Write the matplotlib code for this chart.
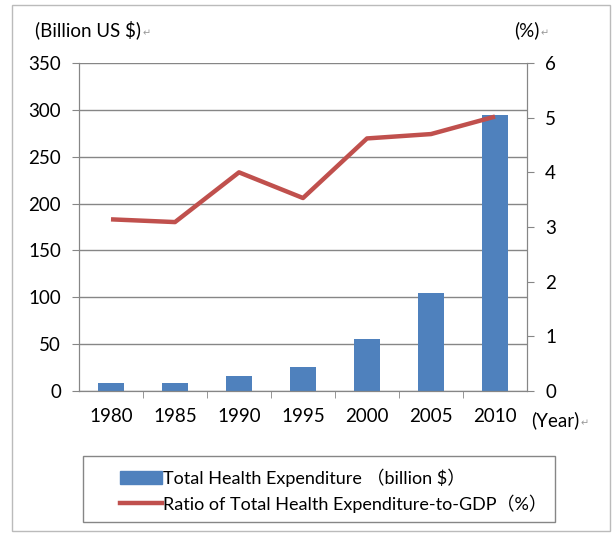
import matplotlib.pyplot as plt
from matplotlib.patches import Rectangle
from matplotlib.lines import Line2D

# Data
years = ["1980", "1985", "1990", "1995", "2000", "2005", "2010"]
expenditure = [9, 9, 16, 26, 55, 105, 294]          # billion US $
ratio_gdp = [3.14, 3.09, 4.0, 3.53, 4.62, 4.70, 5.02]  # %
left_ticks = [0, 50, 100, 150, 200, 250, 300, 350]
right_ticks = [0, 1, 2, 3, 4, 5, 6]

FONT = ["Lato", "Noto Sans CJK SC", "DejaVu Sans"]
plt.rcParams["font.family"] = FONT
plt.rcParams["font.size"] = 13.5

BLUE = "#4F81BD"
RED = "#C0504D"
GRID = "#868686"

W, H = 613, 534
fig = plt.figure(figsize=(W / 100, H / 100), dpi=100)
ax = fig.add_axes([79 / W, 1 - 391 / H, (527 - 79) / W, (391 - 63) / H])

x = list(range(len(years)))
ax.bar(x, expenditure, width=0.4, color=BLUE, zorder=2)
ax.set_xlim(-0.5, len(years) - 0.5)
ax.set_ylim(0, 350)
ax.set_yticks(left_ticks)
ax.set_xticks(x)
ax.set_xticklabels(years)
ax.set_xticks([i + 0.5 for i in x[:-1]], minor=True)
ax.tick_params(axis="x", which="major", length=0, pad=12)
ax.tick_params(axis="x", which="minor", length=5, color=GRID, direction="out")
ax.tick_params(axis="y", length=5, color=GRID, pad=8)
ax.grid(axis="y", color=GRID, linewidth=1, zorder=0)
ax.set_axisbelow(True)
for s in ax.spines.values():
    s.set_color(GRID)
ax.spines["top"].set_visible(False)

ax2 = ax.twinx()
ax2.plot(x, ratio_gdp, color=RED, linewidth=3.2, solid_capstyle="butt", zorder=3)
ax2.set_ylim(0, 6)
ax2.set_yticks(right_ticks)
ax2.tick_params(axis="y", length=5, color=GRID, pad=8)
for s in ax2.spines.values():
    s.set_color(GRID)
ax2.spines["top"].set_visible(False)


def label_with_mark(px, py, s):
    # Word paragraph mark drawn right after the label
    t = fig.text(px / W, 1 - py / H, s, ha="left", va="center")
    bb = t.get_window_extent(fig.canvas.get_renderer())
    fig.text(bb.x1 / W + 0.002, 1 - (py + 3) / H, "\u21b5", ha="left", va="center",
             fontsize=7, color="#999999", family="DejaVu Sans")


label_with_mark(35, 30, "(Billion US $)")
label_with_mark(514, 30, "(%)")
label_with_mark(531, 420, "(Year)")

# legend box
fig.patches.append(Rectangle((83 / W, 1 - 522 / H), (555 - 83) / W, (522 - 456) / H,
                             transform=fig.transFigure, fill=False, edgecolor=GRID, linewidth=1))
handles = [Rectangle((0, 0), 1, 1, color=BLUE),
           Line2D([], [], color=RED, linewidth=3.2)]
labels = ["Total Health Expenditure \uff08billion $\uff09",
          "Ratio of Total Health Expenditure-to-GDP\uff08%\uff09"]
fig.legend(handles, labels, loc="upper left", bbox_to_anchor=(105 / W, 1 - 453 / H),
           frameon=False, handlelength=2.3, handleheight=0.75, handletextpad=0.05,
           labelspacing=0.4, borderpad=0.35, fontsize=13)

# outer border
fig.patches.append(Rectangle((12 / W, 1 - 531 / H), (610 - 12) / W, (531 - 5) / H,
                             transform=fig.transFigure, fill=False, edgecolor="#BBBBBB",
                             linewidth=1))

fig.savefig("out.png", dpi=100)
